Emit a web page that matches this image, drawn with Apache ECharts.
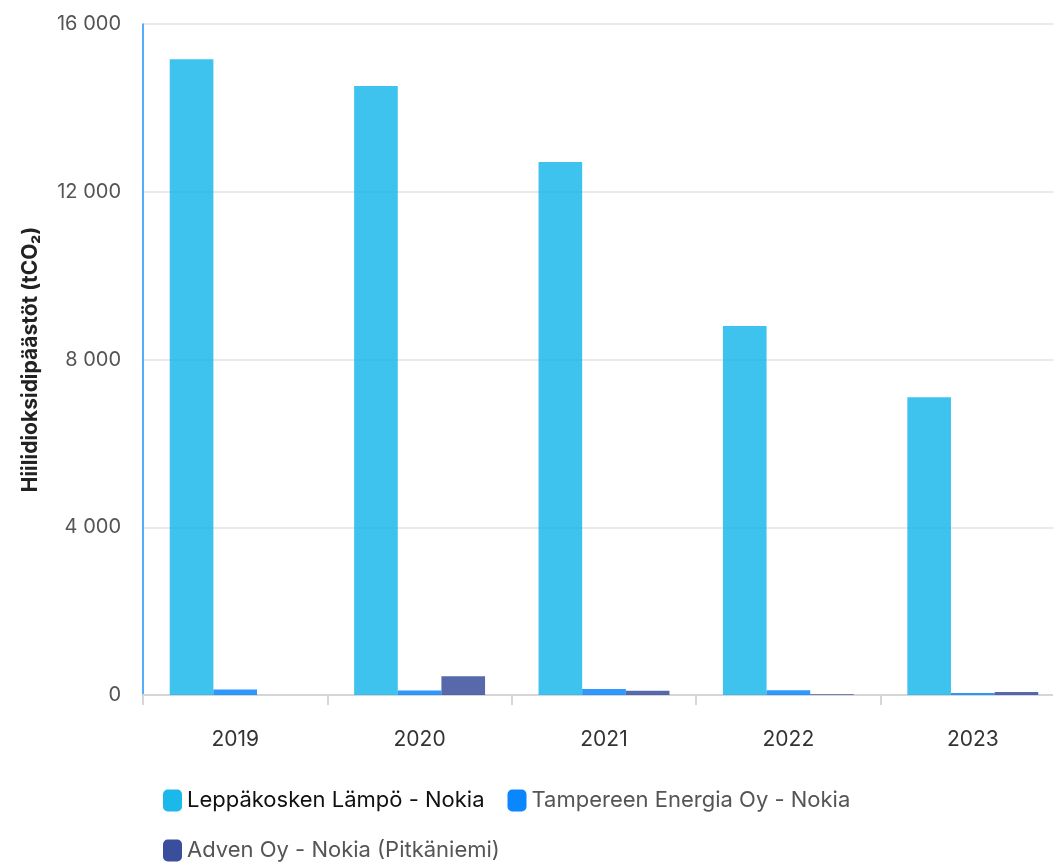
<!DOCTYPE html>
<html>
<head>
<meta charset="utf-8">
<script src="https://cdn.jsdelivr.net/npm/echarts@6/dist/echarts.min.js"></script>
<style>
  html, body { margin: 0; padding: 0; background: #fff; }
  #chart { width: 1053px; height: 865px; }
</style>
</head>
<body>
<div id="chart"></div>
<script>
// vuodet ja päästöt (tCO2)
const years = ['2019', '2020', '2021', '2022', '2023'];
const leppakoski = [15160, 14520, 12710, 8800, 7100];
const tampereen = [130, 110, 145, 115, 50];
const adven = [0, 450, 100, 15, 70];
const seriesNames = ['Leppäkosken Lämpö - Nokia', 'Tampereen Energia Oy - Nokia', 'Adven Oy - Nokia (Pitkäniemi)'];
const colors = ['#1BB8EA', '#0A86FF', '#3A4F9C'];

const chart = echarts.init(document.getElementById('chart'));

const option = {
  textStyle: { fontFamily: 'Inter, Roboto, sans-serif' },
  grid: {
    left: 143,
    top: 24,
    width: 922,
    height: 671,
    outerBoundsMode: 'none',
    containLabel: false,
  },
  legend: {
    left: 158,
    top: 782,
    width: 720,
    itemWidth: 19,
    itemHeight: 22,
    itemGap: 23,
    icon: 'roundRect',
    itemStyle: { opacity: 1 },
    textStyle: { fontSize: 22, color: '#555', lineHeight: 27, padding: [0, 0, 0, 0] },
    data: [
      { name: seriesNames[0], textStyle: { color: '#111' } },
      { name: seriesNames[1] },
      { name: seriesNames[2] },
    ],
  },
  xAxis: {
    type: 'category',
    data: years,
    axisLine: { lineStyle: { color: '#d6d6d6', width: 2 } },
    axisTick: { show: true, length: 10, lineStyle: { color: '#d6d6d6', width: 2 } },
    axisLabel: { fontSize: 21, color: '#333', margin: 34 },
  },
  yAxis: {
    type: 'value',
    min: 0,
    max: 16000,
    interval: 4000,
    name: 'Hiilidioksidipäästöt (tCO₂)',
    nameLocation: 'middle',
    nameGap: 102,
    nameTextStyle: { fontSize: 21, fontWeight: 'bold', color: '#222' },
    axisLine: { show: true, lineStyle: { color: '#1E90FF', width: 1.5 } },
    axisTick: { show: false },
    axisLabel: {
      fontSize: 20,
      color: '#555',
      margin: 22,
      formatter: (v) => String(v).replace(/\B(?=(\d{3})+(?!\d))/g, ' '),
    },
    splitLine: { lineStyle: { color: '#e3e3e3', width: 1.5 } },
  },
  series: [
    {
      name: seriesNames[0],
      type: 'bar',
      data: leppakoski,
      barGap: '0%',
      barCategoryGap: '29%',
      itemStyle: { color: colors[0], opacity: 0.85 },
    },
    {
      name: seriesNames[1],
      type: 'bar',
      data: tampereen,
      itemStyle: { color: colors[1], opacity: 0.85 },
    },
    {
      name: seriesNames[2],
      type: 'bar',
      data: adven,
      itemStyle: { color: colors[2], opacity: 0.85 },
    },
  ],
};

chart.setOption(option);

window.addEventListener('resize', () => {
  chart.resize();
});
</script>
</body>
</html>
